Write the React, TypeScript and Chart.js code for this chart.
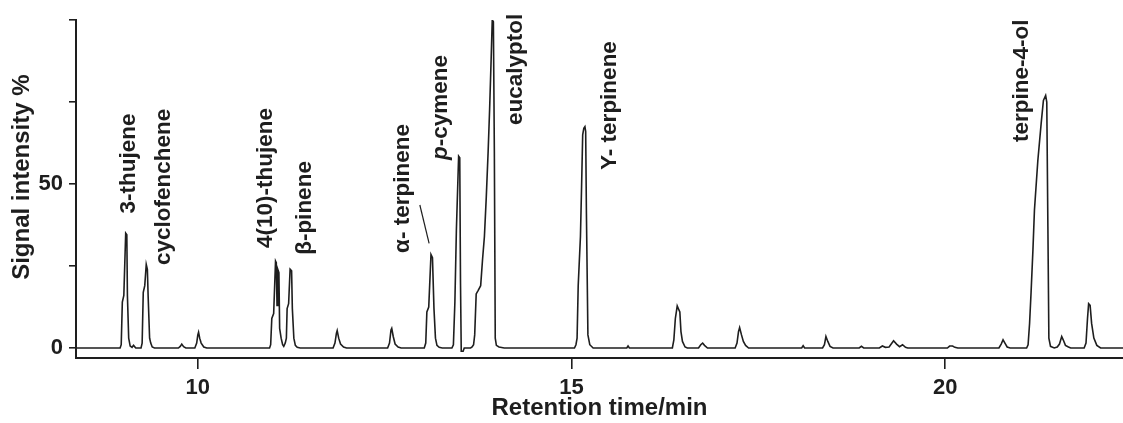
import React, { useEffect, useRef } from "react";
import { Chart, registerables } from "chart.js";

Chart.register(...registerables);

// [retention time (min), signal intensity (%)]
const chromatogram: [number, number][] = [
  [8.37, 0], [8.95, 0],
  [8.96, 0], [8.975, 1], [8.99, 14], [9.01, 16], [9.035, 35], [9.05, 34.5], [9.058, 16], [9.075, 3], [9.095, 0.6], [9.12, 0.2], [9.14, 0.8], [9.17, 0],
  [9.24, 0], [9.255, 1.5], [9.27, 17], [9.29, 19], [9.31, 25.5], [9.325, 24], [9.335, 16], [9.355, 3], [9.37, 1.5], [9.39, 0.3], [9.42, 0],
  [9.74, 0], [9.765, 0.5], [9.785, 1.2], [9.81, 0.4], [9.84, 0],
  [9.96, 0], [9.985, 1.5], [10.0, 4], [10.01, 4.8], [10.025, 3], [10.045, 1.5], [10.08, 0.3], [10.12, 0],
  [10.96, 0], [10.975, 1], [10.99, 9], [11.015, 10.5], [11.04, 26.5], [11.05, 26], [11.06, 13], [11.07, 24], [11.085, 23], [11.095, 6], [11.115, 3], [11.135, 1], [11.15, 0.5], [11.17, 1.5],
  [11.185, 3], [11.195, 12], [11.215, 13.5], [11.235, 24], [11.255, 23.5], [11.265, 12], [11.285, 3], [11.305, 0.8], [11.33, 0.2], [11.37, 0],
  [11.81, 0], [11.835, 1.5], [11.855, 4.5], [11.865, 5.3], [11.885, 3], [11.91, 1.2], [11.95, 0.3], [11.99, 0],
  [12.54, 0], [12.565, 1.5], [12.585, 5.5], [12.595, 6], [12.615, 3.5], [12.64, 1.2], [12.68, 0.3], [12.72, 0],
  [13.03, 0], [13.05, 1.5], [13.065, 11], [13.09, 12.5], [13.12, 28.5], [13.14, 27.5], [13.16, 12], [13.18, 3], [13.2, 0.8], [13.23, 0.2], [13.27, 0],
  [13.4, 0], [13.42, 1], [13.44, 14], [13.46, 36], [13.49, 58.5], [13.505, 58], [13.515, 20], [13.525, -1], [13.55, -1], [13.565, 0], [13.65, 0],
  [13.67, 0.3], [13.69, 1], [13.705, 4], [13.725, 16.5], [13.75, 17.5], [13.785, 19], [13.81, 27], [13.835, 34], [13.86, 46], [13.885, 60], [13.905, 73], [13.925, 88], [13.94, 100], [13.955, 99.5], [13.968, 60], [13.98, 3], [13.995, 0.8], [14.03, 0.3], [14.1, 0],
  [15.04, 0], [15.06, 1], [15.075, 3], [15.09, 19], [15.12, 34], [15.135, 49], [15.15, 65], [15.165, 67], [15.18, 67.5], [15.19, 66], [15.2, 41], [15.22, 4], [15.245, 1], [15.29, 0],
  [15.74, 0], [15.757, 0.6], [15.775, 0],
  [16.35, 0], [16.37, 2.5], [16.39, 9], [16.415, 12.8], [16.43, 12], [16.45, 11], [16.465, 5], [16.485, 2], [16.52, 0.3], [16.55, 0],
  [16.7, 0], [16.73, 1], [16.755, 1.5], [16.78, 0.8], [16.82, 0],
  [17.19, 0], [17.215, 1.5], [17.235, 5], [17.25, 6.2], [17.275, 4], [17.3, 2], [17.33, 0.8], [17.37, 0],
  [18.08, 0], [18.1, 0.7], [18.12, 0],
  [18.36, 0], [18.385, 1], [18.405, 3.5], [18.43, 2], [18.46, 0.5], [18.5, 0],
  [18.85, 0], [18.88, 0.5], [18.91, 0],
  [19.12, 0], [19.16, 0.6], [19.2, 0.2], [19.25, 0.3], [19.31, 2.2], [19.35, 1.2], [19.39, 0.4], [19.43, 1], [19.47, 0.2], [19.5, 0],
  [20.03, 0], [20.06, 0.6], [20.1, 0.6], [20.13, 0.2], [20.17, 0],
  [20.72, 0], [20.75, 1.2], [20.775, 2.5], [20.8, 1.5], [20.83, 0.3], [20.87, 0],
  [21.09, 0], [21.11, 1], [21.13, 7.5], [21.15, 17], [21.175, 30], [21.195, 42], [21.24, 57], [21.285, 68.5], [21.315, 75.5], [21.345, 77], [21.36, 75], [21.375, 37], [21.388, 3], [21.41, 0.5], [21.43, 0.3],
  [21.46, 0], [21.5, 0.3], [21.53, 1.2], [21.56, 3.5], [21.58, 2.5], [21.61, 0.8], [21.65, 0.3], [21.68, 0],
  [21.86, 0], [21.885, 1.5], [21.905, 9], [21.92, 13.5], [21.94, 13], [21.96, 7.5], [21.99, 3], [22.03, 0.8], [22.08, 0], [22.38, 0],
];

const peakNames = [
  "3-thujene",
  "cyclofenchene",
  "4(10)-thujene",
  "β-pinene",
  "α- terpinene",
  "p-cymene",
  "eucalyptol",
  "Y- terpinene",
  "terpine-4-ol",
];
const peakLabelTime = [9.079, 9.54, 10.91, 11.43, 12.74, 13.258, 14.255, 15.51, 21.02];
const peakLabelSignal = [41, 25.3, 30.5, 28.4, 29, 57.3, 68, 54.3, 62.8];

const leaderTime = [12.971, 13.095];
const leaderSignal = [43.6, 31.9];

const xTickValues = [10, 15, 20];
const yTickValues = [0, 25, 50, 75, 100];
const yTickLabels = ["0", "", "50", "", ""];

const xTitle = "Retention time/min";
const yTitle = "Signal intensity %";

const FONT = '"Liberation Sans", Arial, Helvetica, sans-serif';
const INK = "#1e1e1e";
const LABEL_SIZE = 22.5;

export default function App() {
  const ref = useRef<HTMLCanvasElement>(null);

  useEffect(() => {
    if (!ref.current) return;

    const labelPlugin = {
      id: "peakLabels",
      afterDatasetsDraw(chart: any) {
        const { ctx, chartArea } = chart;
        const x = chart.scales.x;
        const y = chart.scales.y;
        ctx.save();
        ctx.fillStyle = INK;
        ctx.textBaseline = "middle";
        ctx.textAlign = "left";
        peakNames.forEach((name, i) => {
          const px = x.getPixelForValue(peakLabelTime[i]);
          const py = y.getPixelForValue(peakLabelSignal[i]);
          ctx.save();
          ctx.translate(px, py);
          ctx.rotate(-Math.PI / 2);
          if (name.startsWith("p-")) {
            ctx.font = `italic bold ${LABEL_SIZE}px ${FONT}`;
            ctx.fillText("p", 0, 0);
            const w = ctx.measureText("p").width;
            ctx.font = `bold ${LABEL_SIZE}px ${FONT}`;
            ctx.fillText(name.slice(1), w, 0);
          } else {
            ctx.font = `bold ${LABEL_SIZE}px ${FONT}`;
            ctx.fillText(name, 0, 0);
          }
          ctx.restore();
        });

        ctx.strokeStyle = INK;
        ctx.lineWidth = 1.2;
        ctx.beginPath();
        ctx.moveTo(x.getPixelForValue(leaderTime[0]), y.getPixelForValue(leaderSignal[0]));
        ctx.lineTo(x.getPixelForValue(leaderTime[1]), y.getPixelForValue(leaderSignal[1]));
        ctx.stroke();

        ctx.save();
        ctx.translate(22.5, chartArea.top + (chartArea.bottom - chartArea.top) * 0.465);
        ctx.rotate(-Math.PI / 2);
        ctx.textAlign = "center";
        ctx.textBaseline = "middle";
        ctx.font = `bold 24px ${FONT}`;
        ctx.fillText(yTitle, 0, 0);
        ctx.restore();

        ctx.restore();
      },
    };

    const chart = new Chart(ref.current, {
      type: "line",
      data: {
        datasets: [
          {
            data: chromatogram.map(([t, s]) => ({ x: t, y: s })),
            borderColor: INK,
            borderWidth: 1.6,
            pointRadius: 0,
            fill: false,
            tension: 0,
          },
        ],
      },
      options: {
        animation: false,
        responsive: false,
        devicePixelRatio: 1,
        layout: { padding: { top: 20, left: 0, right: 0, bottom: 0 } },
        plugins: { legend: { display: false }, tooltip: { enabled: false } },
        scales: {
          x: {
            type: "linear",
            min: 8.37,
            max: 22.38,
            afterBuildTicks: (s: any) => {
              s.ticks = xTickValues.map((v) => ({ value: v }));
            },
            afterFit: (s: any) => {
              s.height = 65;
            },
            grid: { drawOnChartArea: false, drawTicks: true, tickLength: 11, color: INK, lineWidth: 1.6 },
            border: { display: true, color: INK, width: 2 },
            ticks: {
              color: INK,
              font: { family: FONT, size: 22, weight: "bold" },
              padding: 6,
              maxRotation: 0,
              autoSkip: false,
            },
            title: {
              display: true,
              text: xTitle,
              color: INK,
              font: { family: FONT, size: 24, weight: "bold" },
              padding: { top: 0, bottom: 0 },
            },
          },
          y: {
            type: "linear",
            min: -3.05,
            max: 100,
            afterBuildTicks: (s: any) => {
              s.ticks = yTickValues.map((v) => ({ value: v }));
            },
            afterFit: (s: any) => {
              s.width = 76;
            },
            grid: { drawOnChartArea: false, drawTicks: true, tickLength: 7, color: INK, lineWidth: 1.6 },
            border: { display: true, color: INK, width: 2 },
            ticks: {
              color: INK,
              font: { family: FONT, size: 22, weight: "bold" },
              padding: 6,
              autoSkip: false,
              callback: (_v: any, i: number) => yTickLabels[i] ?? "",
            },
          },
        },
      },
      plugins: [labelPlugin],
    } as any);

    return () => chart.destroy();
  }, []);

  return (
    <div style={{ position: "absolute", left: 0, top: 0, width: 1123, height: 423, background: "#fff" }}>
      <canvas ref={ref} width={1123} height={423} style={{ display: "block", width: 1123, height: 423 }} />
    </div>
  );
}
